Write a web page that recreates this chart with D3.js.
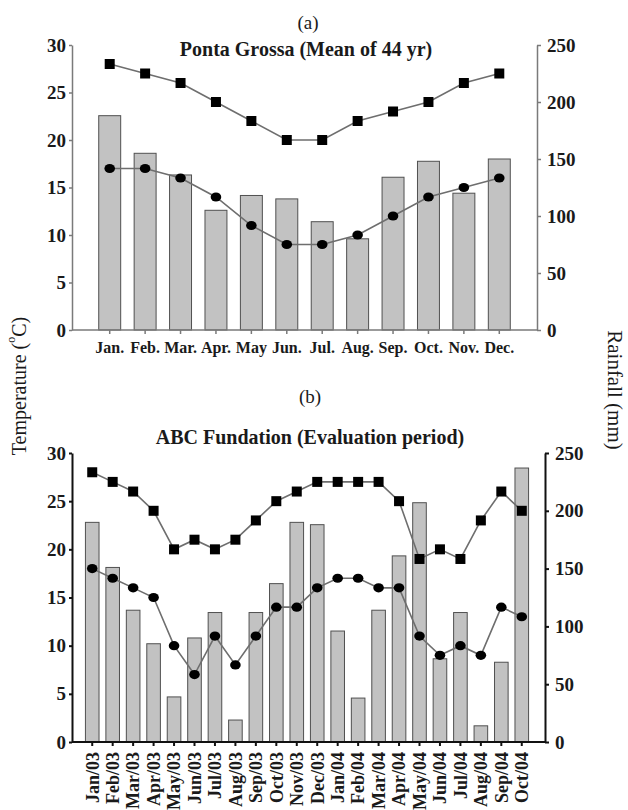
<!DOCTYPE html>
<html>
<head>
<meta charset="utf-8">
<script src="https://cdn.jsdelivr.net/npm/d3@7"></script>
<style>
  body { margin: 0; background: #fff; }
  svg { display: block; }
</style>
</head>
<body>
<div id="chart"></div>
<script>
// Panel (a): Ponta Grossa, mean of 44 yr
const monthsA = ["Jan.", "Feb.", "Mar.", "Apr.", "May", "Jun.", "Jul.", "Aug.", "Sep.", "Oct.", "Nov.", "Dec."];
const rainA = [188, 155, 136, 105, 118, 115, 95, 80, 134, 148, 120, 150];
const tmaxA = [28, 27, 26, 24, 22, 20, 20, 22, 23, 24, 26, 27];
const tminA = [17, 17, 16, 14, 11, 9, 9, 10, 12, 14, 15, 16];

// Panel (b): ABC Fundation, evaluation period
const monthsB = ["Jan/03", "Feb/03", "Mar/03", "Apr/03", "May/03", "Jun/03", "Jul/03", "Aug/03", "Sep/03", "Oct/03", "Nov/03", "Dec/03",
                 "Jan/04", "Feb/04", "Mar/04", "Apr/04", "May/04", "Jun/04", "Jul/04", "Aug/04", "Sep/04", "Oct/04"];
const rainB = [190, 151, 114, 85, 39, 90, 112, 19, 112, 137, 190, 188, 96, 38, 114, 161, 207, 72, 112, 14, 69, 237];
const tmaxB = [28, 27, 26, 24, 20, 21, 20, 21, 23, 25, 26, 27, 27, 27, 27, 25, 19, 20, 19, 23, 26, 24];
const tminB = [18, 17, 16, 15, 10, 7, 11, 8, 11, 14, 14, 16, 17, 17, 16, 16, 11, 9, 10, 9, 14, 13];

const tempTicks = [0, 5, 10, 15, 20, 25, 30];
const rainTicks = [0, 50, 100, 150, 200, 250];

const SERIF = "'Liberation Serif', 'Times New Roman', 'DejaVu Serif', serif";
const W = 628, H = 810;
const svg = d3.select("#chart").append("svg").attr("width", W).attr("height", H)
    .style("font-family", SERIF);

function drawPanel(opt) {
    const g = svg.append("g");
    const x = d3.scaleBand().domain(opt.months)
        .range([opt.left + opt.padL, opt.right - opt.padR])
        .paddingInner(opt.barPad).paddingOuter(opt.barPad / 2);
    const yT = d3.scaleLinear().domain([0, 30]).range([opt.bottom, opt.top]);
    const yR = d3.scaleLinear().domain([0, 250]).range([opt.bottom, opt.top]);
    const cx = m => x(m) + x.bandwidth() / 2;

    // rainfall bars
    g.selectAll(".bar").data(opt.rain).enter().append("rect")
        .attr("x", (d, i) => x(opt.months[i]))
        .attr("y", d => yR(d))
        .attr("width", x.bandwidth())
        .attr("height", d => yR(0) - yR(d))
        .attr("fill", "#c2c2c2")
        .attr("stroke", "#505050")
        .attr("stroke-width", 1);

    // axes
    const axL = g.append("g").attr("transform", `translate(${opt.left},0)`)
        .call(d3.axisLeft(yT).tickValues(tempTicks).tickSize(3).tickSizeOuter(0).tickPadding(3));
    const axR = g.append("g").attr("transform", `translate(${opt.right},0)`)
        .call(d3.axisRight(yR).tickValues(rainTicks).tickSize(4).tickSizeOuter(0).tickPadding(opt.rPad));
    const axB = g.append("g").attr("transform", `translate(0,${opt.bottom})`)
        .call(d3.axisBottom(x).tickSize(4).tickSizeOuter(0).tickPadding(opt.xPad));
    axB.select(".domain").remove();
    g.append("line")
        .attr("x1", opt.left).attr("x2", opt.right)
        .attr("y1", opt.bottom).attr("y2", opt.bottom)
        .attr("stroke", opt.axisColor).attr("stroke-width", opt.axisWidth);

    [axL, axR, axB].forEach(a => {
        a.attr("font-family", null);
        a.selectAll("path, line").attr("stroke", opt.axisColor).attr("stroke-width", opt.axisWidth);
        a.selectAll("text")
            .style("font-family", SERIF).style("font-weight", "bold")
            .attr("font-size", 19).attr("fill", "#1a1a1a");
    });
    axB.selectAll("text").attr("font-size", opt.xFont);
    if (opt.rotate) {
        axB.selectAll("text")
            .attr("transform", "rotate(-90)")
            .attr("text-anchor", "end")
            .attr("x", -opt.xPad).attr("y", 0).attr("dy", "0.35em");
    }

    // temperature lines
    const line = d3.line().x((d, i) => cx(opt.months[i])).y(d => yT(d));
    [opt.tmax, opt.tmin].forEach(s => {
        g.append("path").datum(s).attr("d", line)
            .attr("fill", "none").attr("stroke", "#6e6e6e").attr("stroke-width", 1.6);
    });
    g.selectAll(".sq").data(opt.tmax).enter().append("rect")
        .attr("x", (d, i) => cx(opt.months[i]) - 5)
        .attr("y", d => yT(d) - 5)
        .attr("width", 10).attr("height", 10)
        .attr("fill", "#000");
    g.selectAll(".dot").data(opt.tmin).enter().append("ellipse")
        .attr("cx", (d, i) => cx(opt.months[i]))
        .attr("cy", d => yT(d))
        .attr("rx", 5.3).attr("ry", 4.6)
        .attr("fill", "#000");

    // labels
    svg.append("text").attr("x", opt.labX).attr("y", opt.labY)
        .attr("text-anchor", "middle").attr("font-size", 19).attr("fill", "#1a1a1a")
        .text(opt.label);
    svg.append("text").attr("x", opt.titleX).attr("y", opt.titleY)
        .attr("text-anchor", "middle").attr("font-size", 20).attr("font-weight", "bold")
        .attr("fill", "#1a1a1a")
        .text(opt.title);
}

drawPanel({
    months: monthsA, rain: rainA, tmax: tmaxA, tmin: tminA,
    left: 72, right: 537, top: 45, bottom: 330, padL: 20, padR: 20, barPad: 0.38,
    axisColor: "#7a7a7a", axisWidth: 1.5, rPad: 6, xPad: 8, xFont: 16, rotate: false,
    label: "(a)", labX: 308, labY: 29,
    title: "Ponta Grossa (Mean of 44 yr)", titleX: 306, titleY: 56
});

drawPanel({
    months: monthsB, rain: rainB, tmax: tmaxB, tmin: tminB,
    left: 72, right: 545, top: 453, bottom: 742, padL: 10, padR: 13, barPad: 0.335,
    axisColor: "#111", axisWidth: 2, rPad: 6, xPad: 10, xFont: 18, rotate: true,
    label: "(b)", labX: 310, labY: 403,
    title: "ABC Fundation (Evaluation period)", titleX: 310, titleY: 444
});

// shared axis titles
const tl = svg.append("text")
    .attr("transform", "translate(19,386) rotate(-90)")
    .attr("text-anchor", "middle").attr("dominant-baseline", "central")
    .attr("font-size", 20).attr("fill", "#1a1a1a");
tl.append("tspan").text("Temperature (");
tl.append("tspan").attr("font-size", 12).attr("dy", -8).text("o");
tl.append("tspan").attr("dy", 8).text("C)");

svg.append("text")
    .attr("transform", "translate(615,390) rotate(90)")
    .attr("text-anchor", "middle").attr("dominant-baseline", "central")
    .attr("font-size", 21).attr("fill", "#1a1a1a")
    .text("Rainfall (mm)");
</script>
</body>
</html>
